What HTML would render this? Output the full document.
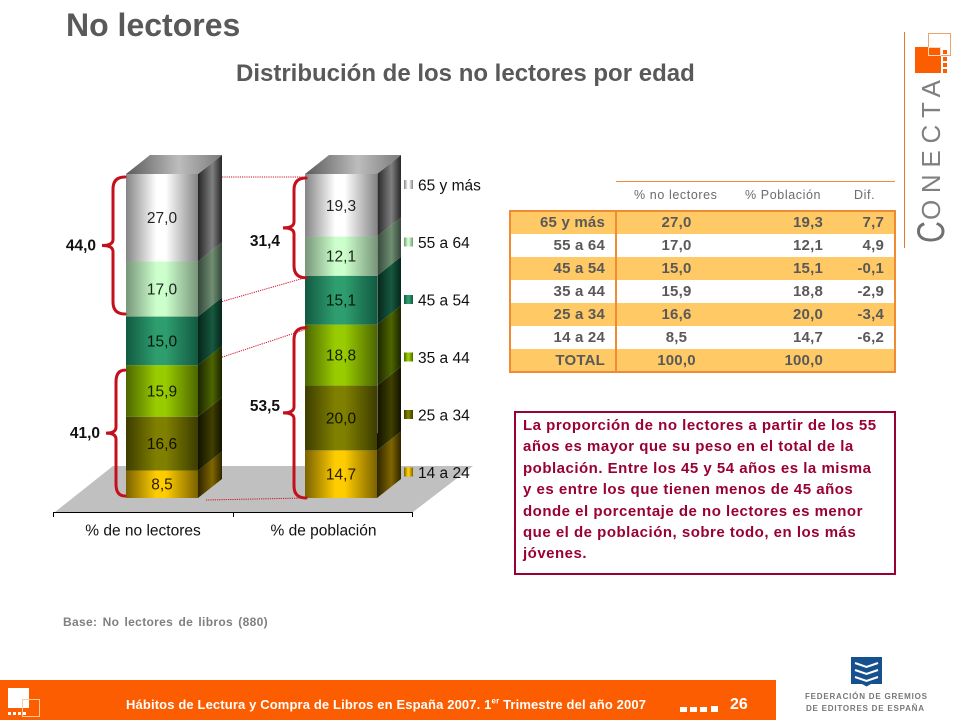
<!DOCTYPE html>
<html lang="es">
<head>
<meta charset="utf-8">
<title>No lectores</title>
<style>
html,body{margin:0;padding:0;background:#fff}
#page{position:relative;width:960px;height:720px;overflow:hidden;background:#fff;font-family:"Liberation Sans",sans-serif}
.abs{position:absolute;white-space:nowrap}
#chart,#logo,#fed{position:absolute;left:0;top:0}
#tbl{position:absolute;left:510px;top:211px;width:385px;height:160px;border-collapse:collapse;table-layout:fixed;box-sizing:border-box;outline:2px solid #f08a33;outline-offset:-1px}
#tbl td{height:23px;padding:0;font-weight:bold;font-size:15px;letter-spacing:.2px;color:#595959;text-align:right;line-height:23px}
#tbl tr.o td{background:#ffc966}
#tbl td.c1{padding-right:10px;border-right:2px solid #f08a33;box-sizing:border-box}
#tbl td.c2{text-align:center}
#tbl td.c3{padding-right:0}
#tbl td.c4{padding-right:11px}
.th{position:absolute;top:188px;font-size:12.5px;letter-spacing:.6px;color:#6b6b6b;line-height:14px;white-space:nowrap}
</style>
</head>
<body>
<div id="page">
  <div class="abs" style="left:66px;top:8px;font-size:32px;font-weight:bold;color:#595959;line-height:34px">No lectores</div>
  <div class="abs" style="left:236px;top:61px;font-size:24px;font-weight:bold;color:#595959;line-height:26px">Distribución de los no lectores por edad</div>

  <svg id="chart" width="960" height="720" viewBox="0 0 960 720">
    <defs id="defs"></defs>
    <g id="plot"></g>
  </svg>

  <div style="position:absolute;left:616px;top:181px;width:279px;height:1px;background:#ee8a3c"></div>
  <div class="th" style="left:634px">% no lectores</div>
  <div class="th" style="left:745px">% Población</div>
  <div class="th" style="left:854px">Dif.</div>
  <table id="tbl">
    <colgroup><col style="width:106px"><col style="width:120px"><col style="width:87px"><col style="width:72px"></colgroup>
    <tr class="o"><td class="c1">65 y más</td><td class="c2">27,0</td><td class="c3">19,3</td><td class="c4">7,7</td></tr>
    <tr><td class="c1">55 a 64</td><td class="c2">17,0</td><td class="c3">12,1</td><td class="c4">4,9</td></tr>
    <tr class="o"><td class="c1">45 a 54</td><td class="c2">15,0</td><td class="c3">15,1</td><td class="c4">-0,1</td></tr>
    <tr><td class="c1">35 a 44</td><td class="c2">15,9</td><td class="c3">18,8</td><td class="c4">-2,9</td></tr>
    <tr class="o"><td class="c1">25 a 34</td><td class="c2">16,6</td><td class="c3">20,0</td><td class="c4">-3,4</td></tr>
    <tr><td class="c1">14 a 24</td><td class="c2">8,5</td><td class="c3">14,7</td><td class="c4">-6,2</td></tr>
    <tr class="o"><td class="c1">TOTAL</td><td class="c2">100,0</td><td class="c3">100,0</td><td class="c4"></td></tr>
  </table>

  <div style="position:absolute;left:514px;top:411px;width:382px;height:164px;box-sizing:border-box;border:2px solid #990033;background:#fff"></div>
  <div class="abs" style="left:523px;top:415px;font-size:15px;font-weight:bold;letter-spacing:.5px;line-height:21.4px;color:#990033">La proporción de no lectores a partir de los 55<br>años es mayor que su peso en el total de la<br>población. Entre los 45 y 54 años es la misma<br>y es entre los que tienen menos de 45 años<br>donde el porcentaje de no lectores es menor<br>que el de población, sobre todo, en los más<br>jóvenes.</div>

  <div class="abs" style="left:63px;top:615px;font-size:12px;font-weight:bold;color:#7f7f7f;line-height:14px;word-spacing:1.6px;letter-spacing:.33px">Base: No lectores de libros (880)</div>

  <div style="position:absolute;left:0;top:680px;width:776px;height:40px;background:#fb5d00"></div>
  <div class="abs" style="left:126px;top:698px;font-size:13px;font-weight:bold;color:#fff;line-height:14px;letter-spacing:.13px">Hábitos de Lectura y Compra de Libros en España 2007. 1<sup style="font-size:8px;line-height:0">er</sup> Trimestre del año 2007</div>
  <div class="abs" style="left:730px;top:696px;font-size:16px;font-weight:bold;color:#fff;line-height:18px">26</div>

  <svg id="logo" width="960" height="720" viewBox="0 0 960 720" style="pointer-events:none">
    <g>
      <rect x="8" y="688" width="21" height="20" fill="#fff"/>
      <rect x="22.5" y="699.5" width="17" height="17" fill="none" stroke="#ffc9a0" stroke-width="1"/>
      <rect x="8" y="712" width="3" height="3" fill="#fff"/><rect x="13" y="712" width="3" height="3" fill="#fff"/><rect x="18" y="712" width="3" height="3" fill="#fff"/><rect x="23" y="712" width="3" height="3" fill="#fff"/>
    </g>
    <g fill="#fff">
      <rect x="680" y="707" width="7" height="5"/><rect x="690" y="707" width="7" height="5"/><rect x="700" y="707" width="7" height="5"/><rect x="711" y="706" width="7" height="6"/>
    </g>
    <g>
      <line x1="904.5" y1="32" x2="904.5" y2="248" stroke="#e8762c" stroke-width="1"/>
      <rect x="915" y="47" width="26" height="26" fill="#fb5d00"/>
      <rect x="928.5" y="33.5" width="22" height="22" fill="none" stroke="#f2a36a" stroke-width="1"/>
      <rect x="928.5" y="47.5" width="12" height="8" fill="none" stroke="#ffd9bd" stroke-width="1"/>
      <rect x="943" y="50" width="4" height="4" fill="#fb5d00"/><rect x="943" y="57" width="4" height="4" fill="#fb5d00"/><rect x="943" y="63" width="4" height="4" fill="#fb5d00"/><rect x="943" y="69" width="4" height="4" fill="#fb5d00"/>
      <text transform="translate(944,243) rotate(-90) scale(.78,1)" font-size="39" fill="#707070" font-family="'Liberation Sans',sans-serif">C</text>
      <text transform="translate(940,220) rotate(-90)" font-size="26" fill="#808080" font-family="'Liberation Sans',sans-serif" textLength="140" lengthAdjust="spacing">ONECTA</text>
    </g>
    <g>
      <rect x="851" y="657" width="31" height="27" fill="#15508f"/>
      <polygon points="862,684 871,684 866.5,686.5" fill="#15508f"/>
      <polyline points="855,663 866.5,667 878,663" fill="none" stroke="#fff" stroke-width="2"/>
      <polyline points="855,670 866.5,674 878,670" fill="none" stroke="#fff" stroke-width="2"/>
      <polyline points="855,677 866.5,681 878,677" fill="none" stroke="#fff" stroke-width="2"/>
      <text x="805" y="699" font-size="8" font-weight="bold" fill="#777" font-family="'Liberation Sans',sans-serif" textLength="122">FEDERACIÓN DE GREMIOS</text>
      <text x="806" y="711" font-size="8" font-weight="bold" fill="#777" font-family="'Liberation Sans',sans-serif" textLength="118">DE EDITORES DE ESPAÑA</text>
    </g>
  </svg>
</div>

<script>
// ---- chart data ----
const categories = ['% de no lectores', '% de población'];
const ageGroups = ['14 a 24', '25 a 34', '35 a 44', '45 a 54', '55 a 64', '65 y más'];
const noLectores = [8.5, 16.6, 15.9, 15.0, 17.0, 27.0];
const poblacion = [14.7, 20.0, 18.8, 15.1, 12.1, 19.3];
const axisMax = [100];
// brace groups: [category index, first age index, last age index]
const braceGroups = [[0, 4, 5], [0, 0, 2], [1, 4, 5], [1, 0, 2]];

// ---- visual styles ----
const frontEdge = ['#ffcc00', '#808000', '#99cc00', '#2f9e6e', '#ccffcc', '#ffffff'];
const frontDark = ['#7a6200', '#3d3d00', '#4d6600', '#115a42', '#78967a', '#858585'];
const sideMid   = ['#806600', '#404000', '#4d6600', '#17593f', '#6f8f72', '#808080'];
const sideDark  = ['#2e2500', '#121200', '#1b2400', '#06251a', '#34463a', '#262626'];

const NS = 'http://www.w3.org/2000/svg';
const plot = document.getElementById('plot');
const defs = document.getElementById('defs');

// ---- axis functions ----
const baseY = 498, plotH = 324;
function yScale(v) { return baseY - v / axisMax[0] * plotH; }
function barX(c) { return c === 0 ? 126 : 305; }
const barW = 72, depthX = 24, depthY = 19;

function mk(tag, attrs, parent) {
  const el = document.createElementNS(NS, tag);
  for (const k in attrs) el.setAttribute(k, attrs[k]);
  (parent || plot).appendChild(el);
  return el;
}
function gradient(id, stops) {
  const g = mk('linearGradient', {id: id, x1: 0, y1: 0, x2: 1, y2: 0}, defs);
  stops.forEach(function (s) { mk('stop', {offset: s[0], 'stop-color': s[1]}, g); });
}
ageGroups.forEach(function (a, i) {
  gradient('front' + i, [[0, frontDark[i]], [0.42, frontEdge[i]], [0.55, frontEdge[i]], [1, frontDark[i]]]);
  gradient('side' + i, [[0, sideDark[i]], [0.6, sideMid[i]], [1, sideDark[i]]]);
});
gradient('topGrad', [[0, '#5a5a5a'], [0.55, '#bdbdbd'], [1, '#7a7a7a']]);

function cum(values, n) { let s = 0; for (let i = 0; i < n; i++) s += values[i]; return s; }
function fmt(v) { return v.toFixed(1).replace('.', ','); }
const seriesByCategory = [noLectores, poblacion];

// floor
const floor = mk('polygon', {points: '55,512 113,466 473,466 413,512', fill: '#c0c0c0'});



// axis
const axis = mk('path', {d: 'M53.5 517V512.5H412.5V517M233.5 512.5V517', fill: 'none', stroke: '#000', 'stroke-width': 1});



// connector lines
function connector(x1, y1, x2, y2) {
  const l = mk('line', {x1: x1, y1: y1, x2: x2, y2: y2, stroke: '#cc1133', 'stroke-width': 1, 'stroke-dasharray': '1.2 1'});
  
  
}
connector(198, yScale(cum(noLectores, 6)) + 3, 305, yScale(cum(poblacion, 6)) + 3);
connector(222, yScale(cum(noLectores, 4)) - 15, 305, yScale(cum(poblacion, 4)) + 2);
connector(222, yScale(cum(noLectores, 3)) - 8, 320, yScale(cum(poblacion, 3)));
connector(206, yScale(0) + 2, 305, yScale(0));

// bars
categories.forEach(function (cat, c) {
  const x = barX(c), vals = seriesByCategory[c];
  const g = mk('g', {});
  
  
  vals.forEach(function (v, i) {
    const y0 = yScale(cum(vals, i)), y1 = yScale(cum(vals, i + 1));
    const side = mk('polygon', {
      points: [[x + barW, y0], [x + barW + depthX, y0 - depthY], [x + barW + depthX, y1 - depthY], [x + barW, y1]].join(' '),
      fill: 'url(#side' + i + ')'
    }, g);
    
    
    const front = mk('rect', {x: x, y: y1, width: barW, height: y0 - y1, fill: 'url(#front' + i + ')'}, g);
    
    
    const t = mk('text', {
      x: x + barW / 2, y: (y0 + y1) / 2 + 5.5, 'text-anchor': 'middle', 'font-size': 15.5, fill: '#000',
      'font-family': '"Liberation Sans",sans-serif', 'fill-opacity': 0.85
    }, g);
    t.textContent = fmt(v);
    
    
  });
  const yt = yScale(cum(vals, vals.length));
  const top = mk('polygon', {
    points: [[x, yt], [x + depthX, yt - depthY], [x + barW + depthX, yt - depthY], [x + barW, yt]].join(' '),
    fill: 'url(#topGrad)'
  }, g);
  
  
  const cl = mk('text', {
    x: c === 0 ? 143 : 323.5, y: 535.5, 'text-anchor': 'middle', 'font-size': 15.5, fill: '#111',
    'font-family': '"Liberation Sans",sans-serif'
  });
  cl.textContent = cat;
  
  
});

// thin light gap between front and side faces of the second bar
const gap = mk('rect', {x: 377, y: yScale(100), width: 1, height: yScale(20) - yScale(100), fill: '#fff', 'fill-opacity': 0.35});



// braces with computed sums
function brace(c, from, to, idx) {
  const vals = seriesByCategory[c];
  const top = yScale(cum(vals, to + 1)) + (idx === 1 ? 5 : idx === 2 ? 4 : 3);
  const bot = yScale(cum(vals, from)) + (idx === 0 ? -2.5 : idx === 1 ? -2 : idx === 2 ? 2 : 0);
  const mid = (top + bot) / 2;
  const right = c === 0 ? 125 : 306;
  const spine = idx === 0 ? 113 : idx === 1 ? 116 : 294;
  const tip = spine - (idx === 1 ? 10 : 11);
  const d = 'M' + right + ' ' + top +
    'Q' + spine + ' ' + top + ' ' + spine + ' ' + (top + 12) +
    'V' + (mid - 6) +
    'Q' + spine + ' ' + mid + ' ' + tip + ' ' + mid +
    'Q' + spine + ' ' + mid + ' ' + spine + ' ' + (mid + 6) +
    'V' + (bot - 12) +
    'Q' + spine + ' ' + bot + ' ' + right + ' ' + bot;
  const p = mk('path', {d: d, fill: 'none', stroke: '#c4101c', 'stroke-width': 3, 'stroke-linecap': 'round'});
  
  
  const t = mk('text', {
    x: tip - 6, y: mid + 5, 'text-anchor': 'end', 'font-size': 15.5, 'font-weight': 'bold', fill: '#111',
    'font-family': '"Liberation Sans",sans-serif'
  });
  if (c === 1) t.setAttribute('x', 280);
  if (c === 1) t.setAttribute('y', from === 0 ? 411 : 246);
  t.textContent = fmt(cum(vals, to + 1) - cum(vals, from));
  
  
}
braceGroups.forEach(function (b, idx) { brace(b[0], b[1], b[2], idx); });

// legend
ageGroups.forEach(function (a, i) {
  const cy = 472 - i * 57.5;
  const s = mk('rect', {x: 404, y: cy - 4.5, width: 9, height: 9, fill: 'url(#front' + i + ')'});
  
  
  const t = mk('text', {x: 418, y: cy + 6, 'font-size': 15.5, fill: '#111', 'font-family': '"Liberation Sans",sans-serif'});
  t.textContent = a;
  
  
});
</script>
</body>
</html>
